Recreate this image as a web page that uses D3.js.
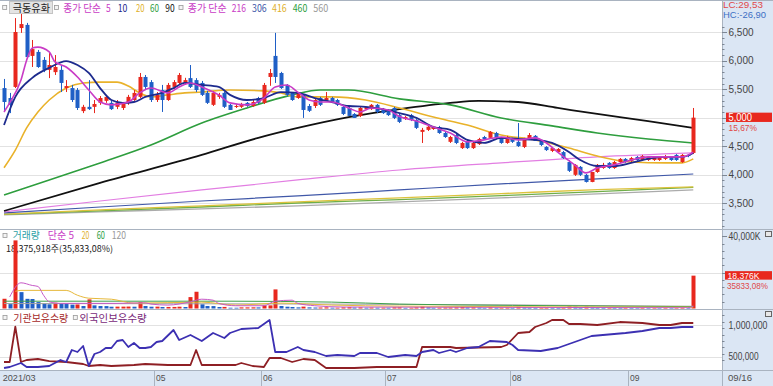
<!DOCTYPE html>
<html><head><meta charset="utf-8">
<script src="https://cdn.jsdelivr.net/npm/d3@7/dist/d3.min.js"></script>
<style>
body{margin:0;background:#fff;}
svg{display:block;}
text{font-family:"Noto Sans CJK KR","Noto Sans",sans-serif;}
.ax text{font-family:"Liberation Sans","DejaVu Sans",sans-serif;}
</style>
</head><body>
<svg id="c" width="773" height="386"></svg>
<script>
// ---------------- DATA ----------------
const dates = [
"2021-03-25","2021-03-26","2021-03-29","2021-03-30","2021-03-31",
"2021-04-01","2021-04-02","2021-04-05","2021-04-06","2021-04-07","2021-04-08","2021-04-09","2021-04-12","2021-04-13","2021-04-14","2021-04-15","2021-04-16","2021-04-19","2021-04-20","2021-04-21","2021-04-22","2021-04-23","2021-04-26","2021-04-27","2021-04-28","2021-04-29","2021-04-30",
"2021-05-03","2021-05-04","2021-05-06","2021-05-07","2021-05-10","2021-05-11","2021-05-12","2021-05-13","2021-05-14","2021-05-17","2021-05-18","2021-05-20","2021-05-21","2021-05-24","2021-05-25","2021-05-26","2021-05-27","2021-05-28","2021-05-31",
"2021-06-01","2021-06-02","2021-06-03","2021-06-04","2021-06-07","2021-06-08","2021-06-09","2021-06-10","2021-06-11","2021-06-14","2021-06-15","2021-06-16","2021-06-17","2021-06-18","2021-06-21","2021-06-22","2021-06-23","2021-06-24","2021-06-25","2021-06-28","2021-06-29","2021-06-30",
"2021-07-01","2021-07-02","2021-07-05","2021-07-06","2021-07-07","2021-07-08","2021-07-09","2021-07-12","2021-07-13","2021-07-14","2021-07-15","2021-07-16","2021-07-19","2021-07-20","2021-07-21","2021-07-22","2021-07-23","2021-07-26","2021-07-27","2021-07-28","2021-07-29","2021-07-30",
"2021-08-02","2021-08-03","2021-08-04","2021-08-05","2021-08-06","2021-08-09","2021-08-10","2021-08-11","2021-08-12","2021-08-13","2021-08-17","2021-08-18","2021-08-19","2021-08-20","2021-08-23","2021-08-24","2021-08-25","2021-08-26","2021-08-27","2021-08-30","2021-08-31",
"2021-09-01","2021-09-02","2021-09-03","2021-09-06","2021-09-07","2021-09-08","2021-09-09","2021-09-10","2021-09-13","2021-09-14","2021-09-15","2021-09-16"];

const opens = [5520,5345,5540,6575,6630,6085,6155,6015,5840,5800,5840,5520,5520,5485,5115,5190,5190,5260,5295,5260,5190,5170,5260,5310,5365,5715,5625,
5310,5485,5310,5540,5610,5610,5695,5660,5610,5435,5225,5365,5435,5225,5190,5190,5260,5205,5345,
5260,5715,6085,5785,5575,5435,5345,5400,5205,5205,5345,5310,5345,5310,5190,5170,5065,5030,5150,5150,5225,5150,
5135,5170,5045,4975,5045,4960,4750,4785,4800,4835,4730,4575,4695,4465,4590,4465,4535,4660,4645,4730,4645,4555,
4625,4575,4485,4625,4680,4590,4485,4415,4395,4395,4220,3995,4135,3995,3870,4045,4115,4205,4115,4220,4275,
4240,4310,4255,4255,4255,4255,4275,4310,4345,4220,4345,4380];
const highs = [5680,5435,6750,6840,6665,6365,6190,6065,6135,6100,5925,5660,5575,5520,5225,5660,5310,5380,5400,5295,5310,5275,5400,5485,5785,5750,5660,
5450,5575,5610,5660,5785,5700,5925,5695,5645,5470,5470,5435,5450,5240,5240,5260,5275,5310,5365,
5610,5855,6490,5805,5590,5450,5450,5415,5240,5330,5365,5450,5365,5330,5205,5190,5080,5190,5190,5240,5240,5170,
5150,5190,5065,5030,5065,4975,4820,4855,4855,4855,4750,4680,4715,4575,4610,4575,4645,4680,4765,4750,4660,4680,
4645,4905,4645,4730,4695,4610,4500,4485,4465,4415,4255,4185,4150,4010,4045,4185,4205,4220,4240,4290,4290,
4310,4325,4345,4325,4325,4325,4345,4325,4360,4360,4360,5170];
const lows = [5100,5080,5520,6490,6050,5890,5875,5800,5695,5750,5450,5450,5275,5135,5080,5135,5080,5225,5260,5135,5150,5135,5225,5295,5345,5485,5275,
5275,5100,5295,5505,5575,5575,5520,5450,5380,5240,5205,5330,5170,5135,5170,5170,5190,5190,5240,
5240,5560,5610,5505,5380,5295,5330,4995,5100,5170,5205,5295,5260,5205,5045,5030,4995,5010,5135,5135,5080,5065,
5030,4975,4905,4960,4940,4800,4555,4765,4785,4715,4645,4555,4535,4450,4450,4450,4520,4610,4625,4625,4540,4540,
4555,4485,4465,4610,4590,4500,4415,4395,4380,4275,4045,3975,3975,3860,3865,4030,4100,4100,4100,4205,4205,
4220,4240,4240,4240,4240,4240,4255,4240,4240,4205,4305,4360];
const closes = [5275,5225,6505,6645,6065,6205,5890,5840,5925,5890,5610,5555,5310,5170,5190,5150,5240,5345,5365,5150,5260,5240,5365,5435,5715,5540,5310,
5400,5310,5575,5625,5750,5660,5540,5485,5400,5260,5435,5400,5190,5135,5205,5240,5205,5275,5260,
5575,5785,5715,5520,5400,5310,5435,5135,5120,5310,5225,5345,5275,5225,5065,5030,4995,5170,5190,5225,5100,5080,
5045,4995,4925,5010,4960,4820,4785,4840,4840,4730,4660,4660,4555,4555,4465,4555,4625,4625,4750,4645,4555,4660,
4575,4500,4625,4695,4590,4520,4430,4465,4450,4290,4065,4170,3995,3870,4045,4170,4170,4115,4220,4275,4220,
4290,4255,4325,4310,4310,4310,4325,4255,4255,4345,4325,5000];

// volume, thousand shares
const volumes = [5640,2700,37800,9300,5600,5500,3800,2900,2600,3450,3100,2900,2400,2500,1640,5300,2000,1640,1600,1260,1300,1300,1340,1260,3800,1640,1260,
1300,1100,1120,1130,1260,1100,6560,9500,2600,1640,1600,1100,1150,700,680,900,900,920,880,
2000,2000,10800,1640,1260,1100,900,1300,900,800,820,900,700,720,900,1000,800,900,700,800,700,720,
700,900,920,600,700,900,1300,900,700,720,800,820,900,1100,900,920,800,600,900,700,720,800,
700,1200,900,800,700,720,800,700,600,900,1400,1300,1100,1300,1200,900,700,720,700,600,620,
600,500,600,500,520,500,520,500,520,700,600,18376];

// moving averages: [trading-day index, price]
const ma5 = [[0,5100],[1,5260],[3,5660],[4,6010],[5,6225],[6,6240],[8,6155],[9,5980],[11,5890],[13,5715],[15,5485],[17,5275],[19,5225],[22,5275],[24,5435],[26,5520],[29,5435],[31,5540],[33,5610],[35,5540],[38,5400],[40,5260],[43,5225],[46,5345],[48,5540],[50,5575],[52,5450],[54,5310],[56,5275],[58,5275],[61,5170],[63,5100],[65,5170],[68,5135],[70,5020],[73,4940],[76,4835],[79,4730],[82,4575],[85,4610],[88,4660],[91,4610],[94,4645],[96,4555],[98,4395],[101,4170],[103,4030],[105,4115],[108,4170],[111,4255],[114,4310],[117,4310],[120,4310],[122,4395]];
const ma10 = [[0,4870],[2,5365],[5,5700],[8,5875],[11,5995],[13,5925],[15,5785],[17,5520],[19,5310],[21,5260],[23,5275],[25,5365],[28,5435],[30,5520],[32,5610],[35,5575],[38,5540],[40,5400],[43,5310],[46,5345],[49,5450],[52,5435],[55,5345],[58,5275],[61,5205],[64,5190],[67,5150],[70,5080],[73,4995],[76,4835],[79,4785],[82,4610],[85,4555],[88,4645],[91,4625],[94,4610],[97,4555],[100,4395],[102,4255],[105,4150],[108,4150],[111,4205],[114,4275],[117,4310],[120,4310],[122,4380]];
const ma20 = [[0,4120],[2,4430],[4,4820],[6,5100],[8,5310],[11,5520],[14,5610],[17,5625],[20,5625],[22,5555],[24,5435],[26,5365],[29,5400],[32,5435],[35,5450],[40,5485],[46,5470],[49,5435],[52,5365],[58,5365],[64,5310],[70,5170],[76,5010],[82,4870],[88,4695],[94,4610],[100,4465],[105,4325],[111,4220],[117,4205],[120,4205],[122,4275]];
const ma60 = [[0,3640],[8,3905],[17,4205],[26,4520],[35,4905],[43,5170],[51,5400],[56,5485],[61,5485],[70,5330],[79,5225],[88,4995],[97,4855],[105,4730],[114,4625],[122,4555]];
const ma90 = [[0,3360],[17,3855],[35,4345],[45,4645],[52,4820],[61,5010],[70,5150],[79,5260],[84,5295],[91,5275],[98,5170],[105,5065],[114,4940],[122,4820]];
const ma216 = [[0,3345],[17,3535],[35,3730],[52,3905],[70,4080],[88,4205],[105,4310],[122,4380]];
const ma306 = [[0,3325],[17,3430],[35,3535],[52,3625],[70,3730],[88,3835],[105,3925],[122,4010]];
const ma416 = [[0,3305],[17,3380],[35,3450],[52,3520],[70,3590],[88,3665],[105,3735],[122,3785]];
const ma460 = [[0,3300],[17,3360],[35,3430],[52,3500],[70,3560],[88,3630],[105,3700],[122,3775]];
const ma560 = [[0,3290],[17,3345],[35,3395],[52,3450],[70,3520],[88,3590],[105,3660],[122,3730]];

// volume moving averages (K)
const vma5 = [[1,6650],[3,14430],[5,12970],[6,12430],[7,7570],[8,3950],[10,3100],[20,3100],[25,3400],[26,2700],[29,2160],[33,3950],[35,5400],[37,4860],[38,3080],[41,1800],[46,1800],[48,4320],[51,4860],[52,3080],[55,1800],[60,1100],[90,900],[121,700],[122,1500]];
const vma20 = [[2,9730],[3,10270],[11,10270],[13,7570],[15,5950],[19,5400],[23,3240],[35,3780],[41,2160],[49,3240],[58,2160],[70,1600],[122,1000]];
const vma60 = [[0,4300],[40,4300],[58,3800],[70,2700],[90,2000],[122,1300]];
const vma120 = [[0,3000],[60,2700],[122,1500]];

// holdings (shares)
const instHold = [[0,416400],[1,416400],[2,973000],[3,416400],[4,447900],[6,463700],[8,431000],[11,416400],[14,384900],[15,353300],[17,369100],[19,353300],[23,369100],[25,384900],[29,369100],[33,369100],[34,605700],[35,369100],[41,369100],[42,400600],[44,353300],[46,337500],[47,479500],[49,479500],[51,416400],[53,463700],[55,447900],[57,321800],[62,321800],[66,337500],[73,337500],[74,653000],[79,653000],[80,637200],[88,653000],[89,684500],[91,873800],[93,889600],[94,968500],[96,1031500],[97,1078900],[99,1078900],[100,1015800],[102,1015800],[105,1000000],[109,1047000],[113,1031500],[116,1000000],[118,1000000],[120,1031500],[122,1031500]];
const foreignHold = [[0,321800],[1,337500],[3,400600],[4,337500],[6,337500],[8,353300],[10,447900],[11,416400],[12,605700],[13,574100],[14,668800],[15,353300],[16,542600],[17,574100],[18,637200],[19,637200],[20,747600],[21,763400],[22,653000],[23,716200],[24,637200],[25,637200],[26,653000],[27,731900],[28,747600],[30,921000],[31,763400],[33,842300],[35,747600],[37,873800],[39,795000],[40,873800],[42,937000],[45,952700],[47,1078900],[48,574100],[50,574100],[52,653000],[53,605700],[55,574100],[57,511000],[59,526800],[62,511000],[63,558400],[66,558400],[68,495300],[71,526800],[73,511000],[74,574100],[76,605700],[77,558400],[79,605700],[80,574100],[82,637200],[84,653000],[86,747600],[89,731900],[90,684500],[91,605700],[95,590000],[98,637200],[101,731900],[102,763400],[104,826500],[108,858000],[110,873800],[113,905200],[116,952700],[118,952700],[120,968500],[122,968500]];

const priceTicks = [3500,4000,4500,5000,5500,6000,6500];
const volTicks = [40000];
const holdTicks = [500000,1000000];
const lastPriceLabel = "5,000", lastPctLabel = "15,67%";
const lastVolLabel = "18,376K", lastVolPct = "35833,08%";
const volInfo = "18,375,918주(35,833,08%)";
const lcLabel = "LC:29,53", hcLabel = "HC:-26,90";

// ---------------- CHART ----------------
const W = 773, H = 386, PR = 722;
const svg = d3.select("#c");
const N = dates.length;
const UP = "#e8281e", DN = "#1f5fc6";

const x = d3.scaleBand().domain(dates).range([1.2, 696.1]);
const bw = x.bandwidth();
const xc = d => x(d) + bw/2;
const xi = d3.scaleLinear().domain([0, N-1]).range([xc(dates[0]), xc(dates[N-1])]);

const yP = d3.scaleLinear().domain([3500, 6500]).range([203, 32.3]);
const yV = d3.scaleLinear().domain([0, 20000]).range([309, 272.7]);
const yH = d3.scaleLinear().domain([500000, 1000000]).range([356.7, 325]);

function txt(g, xx, yy, s, color, size, len) {
  const t = g.append("text").attr("x", xx).attr("y", yy).attr("fill", color).attr("font-size", size).text(s);
  if (len) t.attr("textLength", len).attr("lengthAdjust", "spacingAndGlyphs");
  return t;
}

// backgrounds
svg.append("rect").attr("width", W).attr("height", H).attr("fill", "#fff");
svg.append("rect").attr("x", PR).attr("y", 0).attr("width", W-PR).attr("height", H).attr("fill", "#dbe6f4");
svg.append("rect").attr("x", 0).attr("y", 370).attr("width", W).attr("height", 16).attr("fill", "#dbe6f4");

// clips
const defs = svg.append("defs");
[["c1",0,229],["c2",229,309],["c3",309,370]].forEach(([id,a,b])=>{
  defs.append("clipPath").attr("id",id).append("rect").attr("x",0).attr("y",a+0.5).attr("width",PR).attr("height",b-a-1);
});

// gridlines
const grid = svg.append("g").attr("stroke", "#e2e2e2").attr("stroke-width", 1);
priceTicks.forEach(t => grid.append("line").attr("x1",0).attr("x2",PR).attr("y1",Math.round(yP(t))+0.5).attr("y2",Math.round(yP(t))+0.5));
grid.append("line").attr("x1",0).attr("x2",PR).attr("y1",Math.round(yV(20000))+0.5).attr("y2",Math.round(yV(20000))+0.5);
holdTicks.forEach(t => grid.append("line").attr("x1",0).attr("x2",PR).attr("y1",Math.round(yH(t))+0.5).attr("y2",Math.round(yH(t))+0.5));

// separators
const sep = svg.append("g").attr("stroke", "#a9b3c0").attr("stroke-width", 1);
sep.append("line").attr("x1",0).attr("x2",W).attr("y1",0.5).attr("y2",0.5);
sep.append("line").attr("x1",0).attr("x2",W).attr("y1",229.5).attr("y2",229.5);
sep.append("line").attr("x1",0).attr("x2",W).attr("y1",309.5).attr("y2",309.5);
sep.append("line").attr("x1",0).attr("x2",W).attr("y1",370.5).attr("y2",370.5);
sep.append("line").attr("x1",PR+0.5).attr("x2",PR+0.5).attr("y1",0).attr("y2",H);

// ---- price panel
const p1 = svg.append("g").attr("clip-path","url(#c1)");
const line = (ys) => d3.line().x(d => xi(d[0])).y(d => ys(d[1])).curve(d3.curveMonotoneX);
const drawMA = (g, data, color, w, ys) => g.append("path").datum(data).attr("d", line(ys)).attr("fill","none").attr("stroke",color).attr("stroke-width",w).attr("stroke-linejoin","round");

drawMA(p1, ma560, "#ababab", 1.3, yP);
drawMA(p1, ma460, "#6fae4a", 1.3, yP);
drawMA(p1, ma416, "#dcc23c", 1.3, yP);
drawMA(p1, ma306, "#4058a8", 1.2, yP);
drawMA(p1, ma216, "#e27ee2", 1.2, yP);
drawMA(p1, ma90, "#111111", 1.8, yP);
drawMA(p1, ma60, "#2e9e3e", 1.6, yP);
drawMA(p1, ma20, "#e9b22a", 1.6, yP);

const cd = dates.map((d,i)=>({d, o:opens[i], h:highs[i], l:lows[i], c:closes[i], v:volumes[i], pv: i ? volumes[i-1] : 0, i}));
const cg = p1.append("g");
cg.selectAll("line").data(cd).join("line")
  .attr("x1", d => Math.round(xc(d.d))+0.5).attr("x2", d => Math.round(xc(d.d))+0.5)
  .attr("y1", d => yP(d.h)).attr("y2", d => yP(d.l))
  .attr("stroke", d => d.c >= d.o ? UP : DN).attr("stroke-width", 1);
cg.selectAll("rect").data(cd).join("rect")
  .attr("x", d => Math.round(xc(d.d)) - 1.5).attr("width", 4)
  .attr("y", d => yP(Math.max(d.o,d.c)))
  .attr("height", d => Math.max(1, Math.abs(yP(d.o)-yP(d.c))))
  .attr("fill", d => d.c >= d.o ? UP : DN);

drawMA(p1, ma10, "#1d2b8e", 1.8, yP);
drawMA(p1, ma5, "#c93bc6", 1.6, yP);

// ---- volume panel
const lg = svg.append("g");
txt(lg, 6, 251.5, volInfo, "#222", 9, 107);
const p2 = svg.append("g").attr("clip-path","url(#c2)");
p2.selectAll("rect").data(cd).join("rect")
  .attr("x", d => Math.round(xc(d.d)) - 1.5).attr("width", 4)
  .attr("y", d => yV(d.v)).attr("height", d => Math.max(1, 309 - yV(d.v)))
  .attr("fill", d => d.v >= d.pv ? UP : DN);
drawMA(p2, vma120, "#a0a0a0", 1, yV);
drawMA(p2, vma60, "#3ea04a", 1, yV);
drawMA(p2, vma20, "#e6b83a", 1, yV);
drawMA(p2, vma5, "#c659c6", 1, yV);

// ---- holdings panel
const p3 = svg.append("g").attr("clip-path","url(#c3)");
const hl = d3.line().x(d=>xi(d[0])).y(d=>yH(d[1]));
p3.append("path").attr("d", hl(instHold)).attr("fill","none").attr("stroke","#8e1f24").attr("stroke-width",1.8).attr("stroke-linejoin","round");
p3.append("path").attr("d", hl(foreignHold)).attr("fill","none").attr("stroke","#3c30b2").attr("stroke-width",1.8).attr("stroke-linejoin","round");

// ---- right axes
const ax = svg.append("g").attr("class","ax");
d3.range(3100, 7001, 100).forEach(t => {
  const yy = yP(t); if (yy < 22 || yy > 228) return;
  ax.append("line").attr("x1",PR).attr("x2",PR+ (t%500===0?5:2.5)).attr("y1",Math.round(yy)+0.5).attr("y2",Math.round(yy)+0.5).attr("stroke","#7d8794");
});
priceTicks.forEach(t => {
  if (t === 5000) return;
  txt(ax, PR+6.5, yP(t)+3.6, d3.format(",")(t), "#444", 10, 25);
});
txt(ax, PR+1, 8.2, lcLabel, "#e04848", 8.8, 40);
txt(ax, PR+1, 18.4, hcLabel, "#3d6fc4", 8.8, 43);
const lp = yP(closes[N-1]);
ax.append("rect").attr("x",PR+4).attr("y",lp-5).attr("width",46).attr("height",9.3).attr("fill","#e8281e");
txt(ax, PR+6.5, lp+3.5, lastPriceLabel, "#fff", 10, 23.5);
txt(ax, PR+6.5, lp+13.2, lastPctLabel, "#e04848", 9.5, 28.5);

// volume axis
d3.range(0, 42001, 4000).forEach(t=>{
  const yy = yV(t); if (yy < 231 || yy > 308) return;
  ax.append("line").attr("x1",PR).attr("x2",PR+(t%20000===0?5:2.5)).attr("y1",Math.round(yy)+0.5).attr("y2",Math.round(yy)+0.5).attr("stroke","#7d8794");
});
volTicks.forEach(t => txt(ax, PR+6.5, yV(t)+3.6, d3.format(",")(t)+"K", "#444", 10, 32));
const lv = yV(volumes[N-1]);
ax.append("rect").attr("x",PR+3).attr("y",lv-4.5).attr("width",47).attr("height",8.5).attr("fill","#e8281e");
txt(ax, PR+5.5, lv+3.5, lastVolLabel, "#fff", 9.5, 32);
txt(ax, PR+5, lv+13, lastVolPct, "#e04848", 9, 41);

// holdings axis
d3.range(450000, 1250001, 100000).forEach(t=>{
  const yy = yH(t); if (yy < 311 || yy > 369) return;
  ax.append("line").attr("x1",PR).attr("x2",PR+(t%500000===0?5:2.5)).attr("y1",Math.round(yy)+0.5).attr("y2",Math.round(yy)+0.5).attr("stroke","#7d8794");
});
holdTicks.forEach(t => txt(ax, PR+6.5, yH(t)+3.6, d3.format(",")(t), "#444", 10, t >= 1000000 ? 39 : 30));

// small panel icons
[234, 314].forEach(yy => {
  ax.append("rect").attr("x",765.5).attr("y",yy-2.5).attr("width",6).attr("height",5).attr("fill","#e8e8e8").attr("stroke","#666");
});

// ---- x axis
const xa = svg.append("g").attr("class","ax");
txt(xa, 2.7, 381, dates[0].slice(0,4)+"/"+dates[0].slice(5,7), "#505050", 9.5, 33);
dates.forEach((d,i) => {
  if (i === 0 || d.slice(5,7) === dates[i-1].slice(5,7)) return;
  const sx = Math.round(x(d)) + 0.5;
  if (sx < 45) return; // label would collide with the first label
  xa.append("line").attr("x1",sx).attr("x2",sx).attr("y1",371).attr("y2",386).attr("stroke","#a9b3c0");
  txt(xa, sx+1.5, 381, d.slice(5,7), "#505050", 9.5, 9.5);
});
txt(xa, PR+6, 381, dates[N-1].slice(5,7)+"/"+dates[N-1].slice(8,10), "#505050", 9.5, 24);

// ---- legends
const sq = (xx, yy) => lg.append("rect").attr("x",xx).attr("y",yy).attr("width",4).attr("height",4).attr("fill","#f4f4f4").attr("stroke","#9a9a9a").attr("stroke-width",0.8);
sq(2.7,5.5);
lg.append("rect").attr("x",9.5).attr("y",1.5).attr("width",43).attr("height",12).attr("fill","#e4e4e4").attr("stroke","#c4c4c4");
txt(lg, 12.7, 11.5, "극동유화", "#222", 10.5, 37.3);
sq(54.5,5.5);
const leg1 = [["종가 단순",63.3,37.7,"#c93bc6"],["5",106,4.7,"#c93bc6"],["10",117.7,9.6,"#1d2b8e"],["20",136,8.5,"#e0b02a"],["60",150,9,"#2e9e3e"],["90",165.3,9.4,"#111"]];
leg1.forEach(([t,xx,l,c]) => txt(lg, xx, 11.5, t, c, 10.5, l));
sq(179,5.5);
const leg2 = [["종가 단순",187.7,39,"#c93bc6"],["216",231.7,14.3,"#c93bc6"],["306",252,14.7,"#4058a8"],["416",272,14.7,"#e0b02a"],["460",292.7,14.6,"#2e9e3e"],["560",313.3,15,"#999"]];
leg2.forEach(([t,xx,l,c]) => txt(lg, xx, 11.5, t, c, 10.5, l));

sq(3,233.5);
const leg3 = [["거래량",12.7,27,"#2a9fa5"],["단순 5",47.7,26.3,"#c93bc6"],["20",81.7,7.6,"#e0b02a"],["60",96.7,8.3,"#2e9e3e"],["120",111.7,14.3,"#999"]];
leg3.forEach(([t,xx,l,c]) => txt(lg, xx, 239, t, c, 10, l));

sq(3,315.5);
txt(lg, 13.3, 321.5, "기관보유수량", "#a52a2a", 10.5, 55);
sq(73.3,315.5);
txt(lg, 79.3, 321.5, "외국인보유수량", "#7a2a7a", 10.5, 67.4);
</script>
</body></html>
